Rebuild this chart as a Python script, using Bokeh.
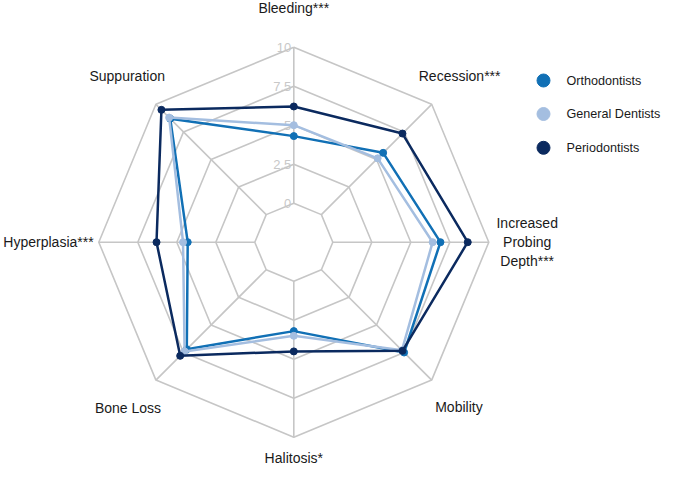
import numpy as np
from bokeh.plotting import figure
from bokeh.models import Range1d
from bokeh.core.properties import value
from bokeh.embed import file_html
from bokeh.resources import INLINE

# ---- data ----
categories = ["Bleeding***", "Recession***", "Increased Probing Depth***", "Mobility",
              "Halitosis*", "Bone Loss", "Hyperplasia***", "Suppuration"]
orthodontists = [4.3, 5.6, 6.9, 7.5, 3.2, 7.2, 4.3, 8.7]
general_dentists = [5.0, 5.1, 6.4, 7.3, 3.5, 7.4, 4.6, 8.8]
periodontists = [6.2, 7.35, 8.65, 7.35, 4.5, 7.8, 6.3, 9.5]
series_names = ["Orthodontists", "General Dentists", "Periodontists"]
ring_values = [0, 2.5, 5, 7.5, 10]
ring_labels = ["0", "2.5", "5", "7.5", "10"]

# ---- layout ----
colors = ["#1170b5", "#a4bee0", "#0b2a5f"]
FONT = "Liberation Sans"
W, H = 669, 465
CX, CY = 293.3, 241.7           # centre in pixels from top-left
RMIN, RMAX = -2.5, 10.0
R10 = 195.0


def rad(v):
    return (np.asarray(v, dtype=float) - RMIN) / (RMAX - RMIN) * R10


n = len(categories)
ang = np.deg2rad(90 - 45 * np.arange(n))

p = figure(width=W, height=H, output_backend="svg", toolbar_location=None,
           x_range=Range1d(-CX, W - CX), y_range=Range1d(CY - H, CY),
           min_border=0, outline_line_color=None)
p.axis.visible = False
p.grid.visible = False
p.background_fill_color = "white"

grid_col = "#c6c6c6"
# rings
for v in ring_values:
    r = rad(v)
    xs = list(r * np.cos(ang)) + [r * np.cos(ang[0])]
    ys = list(r * np.sin(ang)) + [r * np.sin(ang[0])]
    p.line(xs, ys, line_color=grid_col, line_width=1.6)
# spokes
r0, r1 = rad(ring_values[0]), rad(ring_values[-1])
p.multi_line([[r0 * np.cos(a), r1 * np.cos(a)] for a in ang],
             [[r0 * np.sin(a), r1 * np.sin(a)] for a in ang],
             line_color=grid_col, line_width=1.6)
# ring labels
p.text(x=[-2.5] * len(ring_values), y=list(rad(ring_values)), text=ring_labels,
       text_align="right", text_baseline="middle", text_color="#c8c8c8",
       text_font=value(FONT), text_font_size="13px")

# series
for vals, col in zip([orthodontists, general_dentists, periodontists], colors):
    r = rad(vals)
    xs = r * np.cos(ang)
    ys = r * np.sin(ang)
    p.line(list(xs) + [xs[0]], list(ys) + [ys[0]], line_color=col, line_width=2.5)
    p.scatter(xs, ys, size=7, fill_color=col, line_color=col)

# category labels
label_r = [234.7, 234.5, 233.4, 233.5, 216.0, 234.5, 245.3, 235.6]
lx, ly, lt = [], [], []
for cat, a, lr in zip(categories, ang, label_r):
    x0, y0 = lr * np.cos(a), lr * np.sin(a)
    if cat.startswith("Increased"):
        parts = ["Increased", "Probing", "Depth***"]
        for k, part in enumerate(parts):
            lx.append(x0)
            ly.append(y0 + 19.0 * (1 - k))
            lt.append(part)
    else:
        lx.append(x0)
        ly.append(y0)
        lt.append(cat)
p.text(x=lx, y=ly, text=lt, text_align="center", text_baseline="middle",
       text_color="#1a1a1a", text_font=value(FONT), text_font_size="14px")

# legend
leg_x = 543.0 - CX
leg_y = [CY - 80.0, CY - 113.5, CY - 147.3]
p.scatter([leg_x] * 3, leg_y, size=13, fill_color=colors, line_color=colors)
p.text(x=[leg_x + 23] * 3, y=leg_y, text=series_names, text_align="left",
       text_baseline="middle", text_color="#1a1a1a", text_font=value(FONT),
       text_font_size="12.6px")

open("out.html", "w").write(file_html(p, INLINE))
